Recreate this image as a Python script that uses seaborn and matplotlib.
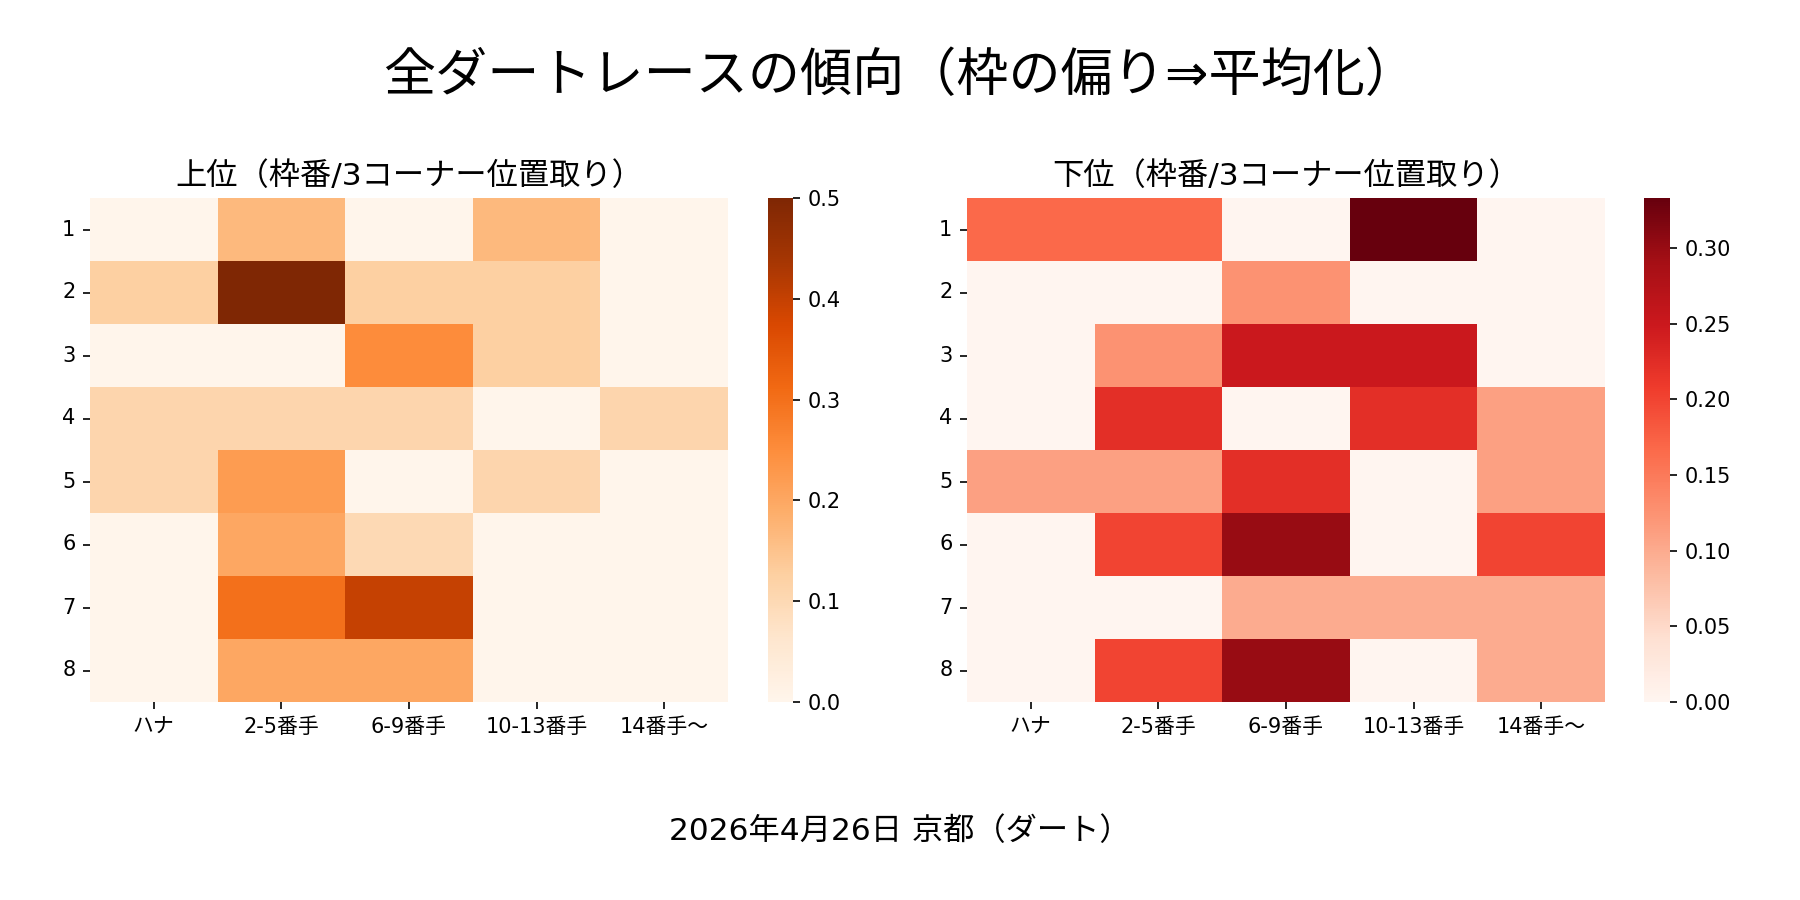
import numpy as np
import pandas as pd
import matplotlib
matplotlib.use("Agg")
import matplotlib.pyplot as plt
import seaborn as sns

plt.rcParams['font.family'] = ['DejaVu Sans', 'Noto Sans CJK JP']

# rows = 枠番, cols = 3コーナー位置取り
waku = ['1', '2', '3', '4', '5', '6', '7', '8']
positions = ['ハナ', '2-5番手', '6-9番手', '10-13番手', '14番手〜']

# 上位 (top finishers) share
top_vals = [
    [0.0,   0.167, 0.0,   0.167, 0.0],
    [0.125, 0.5,   0.125, 0.125, 0.0],
    [0.0,   0.0,   0.25,  0.125, 0.0],
    [0.111, 0.111, 0.111, 0.0,   0.111],
    [0.111, 0.222, 0.0,   0.111, 0.0],
    [0.0,   0.2,   0.1,   0.0,   0.0],
    [0.0,   0.3,   0.4,   0.0,   0.0],
    [0.0,   0.2,   0.2,   0.0,   0.0],
]

# 下位 (bottom finishers) share
bottom_vals = [
    [0.167, 0.167, 0.0,   0.333, 0.0],
    [0.0,   0.0,   0.125, 0.0,   0.0],
    [0.0,   0.125, 0.25,  0.25,  0.0],
    [0.0,   0.222, 0.0,   0.222, 0.111],
    [0.111, 0.111, 0.222, 0.0,   0.111],
    [0.0,   0.2,   0.3,   0.0,   0.2],
    [0.0,   0.0,   0.1,   0.1,   0.1],
    [0.0,   0.2,   0.3,   0.0,   0.1],
]

df_top = pd.DataFrame(top_vals, index=waku, columns=positions)
df_bottom = pd.DataFrame(bottom_vals, index=waku, columns=positions)

fig = plt.figure(figsize=(12, 6), dpi=150)

ax1 = fig.add_axes([0.05, 0.22, 0.3544, 0.56])
cax1 = fig.add_axes([0.4267, 0.22, 0.0139, 0.56])
ax2 = fig.add_axes([0.5372, 0.22, 0.3544, 0.56])
cax2 = fig.add_axes([0.9133, 0.22, 0.0144, 0.56])

sns.heatmap(df_top, cmap='Oranges', ax=ax1, cbar_ax=cax1)
ax1.set_title('上位（枠番/3コーナー位置取り）', fontsize=15)

sns.heatmap(df_bottom, cmap='Reds', ax=ax2, cbar_ax=cax2)
ax2.set_title('下位（枠番/3コーナー位置取り）', fontsize=15)

for ax in (ax1, ax2):
    ax.tick_params(axis='y', rotation=0)
    ax.tick_params(axis='x', rotation=0)

fig.suptitle('全ダートレースの傾向（枠の偏り⇒平均化）', fontsize=25, y=0.915, va='center')
fig.text(0.5, 0.077, '2026年4月26日 京都（ダート）', ha='center', va='center', fontsize=15)

plt.savefig('out.png', dpi=150)
